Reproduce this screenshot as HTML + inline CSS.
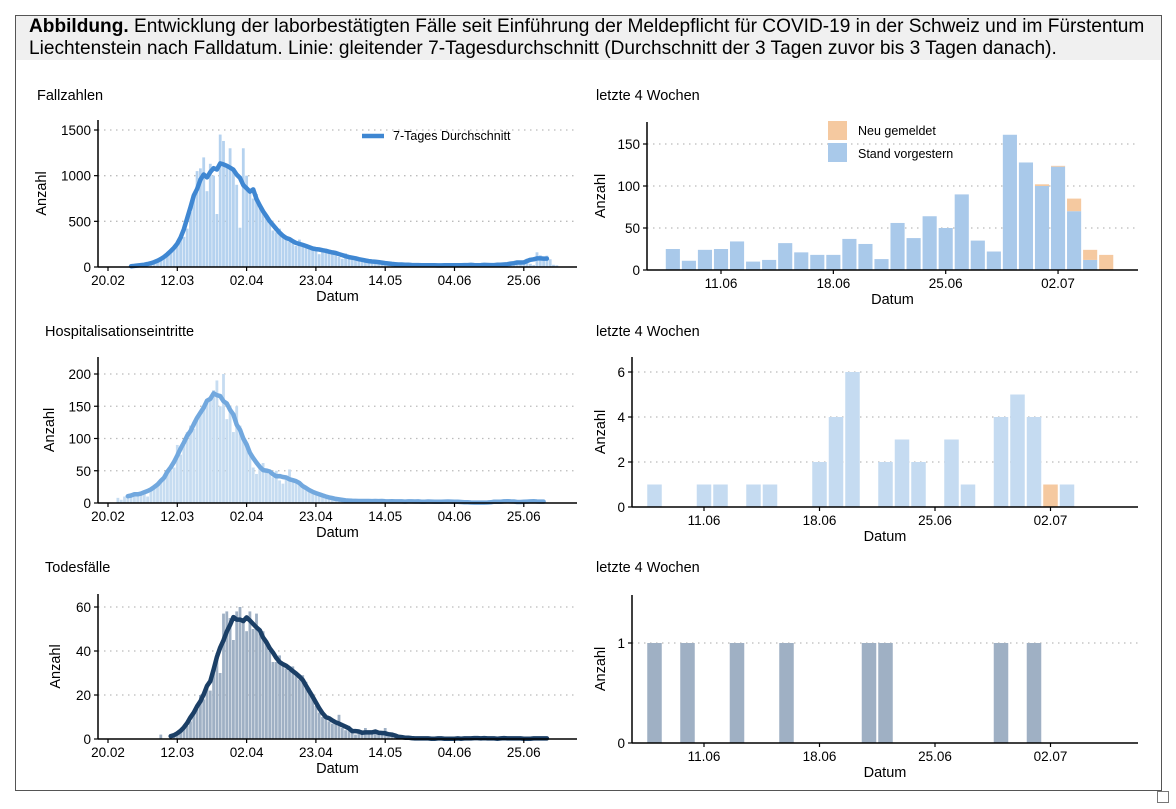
<!DOCTYPE html>
<html><head><meta charset="utf-8"><style>
html,body{margin:0;padding:0;background:#fff;}
body{width:1176px;height:809px;position:relative;overflow:hidden;font-family:"Liberation Sans",Arial,sans-serif;}
#frame{position:absolute;left:15px;top:15px;width:1147px;height:776px;border:1px solid #555;box-sizing:border-box;}
#cap{position:absolute;left:16px;top:16px;width:1145px;height:44px;background:#f0f0f0;font-size:19.1px;line-height:22px;color:#000;padding-left:13px;box-sizing:border-box;white-space:nowrap;overflow:hidden;}
#corner{position:absolute;left:1157px;top:791px;width:10px;height:10px;border:1px solid #777;background:#fff;}
svg{position:absolute;left:0;top:0;}
</style></head><body>
<div id="frame"></div>
<div id="cap"><b>Abbildung.</b> Entwicklung der laborbestätigten Fälle seit Einführung der Meldepflicht für COVID-19 in der Schweiz und im Fürstentum<br>Liechtenstein nach Falldatum. Linie: gleitender 7-Tagesdurchschnitt (Durchschnitt der 3 Tagen zuvor bis 3 Tagen danach).</div>
<div id="corner"></div>
<svg id="chart" width="1176" height="809" xmlns="http://www.w3.org/2000/svg"></svg>
<script>
// ---- data ----
const longTickLabels = ["20.02","12.03","02.04","23.04","14.05","04.06","25.06"];
const longTickDays = [0,21,42,63,84,105,126];
const shortTickLabels = ["11.06","18.06","25.06","02.07"];
const shortTickIdx = [3,10,17,24];

const casesStart = 4;
const casesDaily = [1,2,5,8,10,15,20,25,30,35,45,60,80,100,130,
160,200,250,300,330,420,600,800,1050,1080,
1200,830,1130,1000,580,1450,1380,1100,1300,1050,
900,430,1300,1000,850,750,800,650,600,560,500,400,380,420,350,300,280,
260,230,300,250,220,230,200,180,140,200,
200,190,180,150,110,90,150,120,110,100,
80,60,50,80,70,60,55,45,35,30,
40,35,30,25,20,15,30,25,20,20,18,15,12,25,20,18,20,15,12,25,20,22,20,
25,11,24,25,34,10,12,32,21,18,18,37,31,13,56,38,64,50,90,35,22,161,128,102,124,85,24,18];
const hospStart = 3;
const hospDaily = [8,5,10,12,10,15,14,15,18,10,20,25,28,32,40,45,50,55,90,75,90,110,120,115,130,140,150,160,165,175,190,150,200,130,150,110,150,120,100,90,75,55,45,60,62,50,45,40,50,35,30,40,52,35,35,30,25,20,20,18,15,12,12,10,8,8,6,5,
4,3,5,3,2,4,3,3,2,5,3,2,3,4,2,3,1,2,3,2,4,2,1,3,2,2,3,1,2,3,2,1,2,3,2,3,2,
1,0,0,1,1,0,1,1,0,0,2,4,6,0,2,3,2,0,3,1,0,4,5,4,1,1,0,0];
const deathStart = 16;
const deathDaily = [2,0,0,1,1,2,3,5,6,8,12,15,20,18,25,22,30,39,30,57,58,55,45,58,60,55,49,58,50,57,48,49,44,40,35,35,38,34,32,31,33,30,27,29,26,23,20,15,12,10,10,8,7,8,11,5,4,6,3,2,3,2,5,3,2,4,2,3,5,1,2,1,1,1,
0,1,0,0,1,0,0,0,1,0,0,0,0,1,0,0,0,0,0,
1,0,1,0,0,1,0,0,1,0,0,0,0,1,1,0,0,0,0,0,0,1,0,1,0,0,0,0];

const recentCasesOld = [25,11,24,25,34,10,12,32,21,18,18,37,31,13,56,38,64,50,90,35,22,161,128,100,123,70,12,0];
const recentCasesNew = [0,0,0,0,0,0,0,0,0,0,0,0,0,0,0,0,0,0,0,0,0,0,0,2,1,15,12,18];
const recentHospOld = [1,0,0,1,1,0,1,1,0,0,2,4,6,0,2,3,2,0,3,1,0,4,5,4,0,1,0,0];
const recentHospNew = [0,0,0,0,0,0,0,0,0,0,0,0,0,0,0,0,0,0,0,0,0,0,0,0,1,0,0,0];
const recentDeaths = [1,0,1,0,0,1,0,0,1,0,0,0,0,1,1,0,0,0,0,0,0,1,0,1,0,0,0,0];

// ---- drawing ----
const svg = document.getElementById('chart');
const NS = 'http://www.w3.org/2000/svg';
function mk(tag, attrs, parent){const e=document.createElementNS(NS,tag);for(const k in attrs)e.setAttribute(k,attrs[k]);(parent||svg).appendChild(e);return e;}
function txt(x,y,s,size,anchor,parent,rot){const t=mk('text',{x:x,y:y,'font-size':size,'text-anchor':anchor||'start',fill:'#000','font-family':'Liberation Sans, Arial, sans-serif'},parent);if(rot)t.setAttribute('transform','rotate(-90 '+x+' '+y+')');t.textContent=s;return t;}

function axes(g,p){
  p.yTicks.forEach(v=>{ if(v===0) return; const y=p.ys(v);
    const gl=mk('line',{x1:p.x0,x2:p.x1,y1:y,y2:y,stroke:'#bbb','stroke-width':1.3,'stroke-dasharray':'1.5 4.5'},g);
     });
}
function frameAxes(g,p){
  const ya=mk('line',{x1:p.x0,x2:p.x0,y1:p.top,y2:p.ys(0)+0.5,stroke:'#000','stroke-width':1.5},g);
   
  const xa=mk('line',{x1:p.x0,x2:p.x1,y1:p.ys(0),y2:p.ys(0),stroke:'#000','stroke-width':1.5},g);
   
  p.yTicks.forEach(v=>{const y=p.ys(v);
    mk('line',{x1:p.x0-4,x2:p.x0,y1:y,y2:y,stroke:'#000','stroke-width':1.2},g);
    const t=txt(p.x0-7,y+5,String(v),13.5,'end',g);
     });
  p.xTicks.forEach((d,i)=>{const x=p.xs(d);
    mk('line',{x1:x,x2:x,y1:p.ys(0),y2:p.ys(0)+4,stroke:'#000','stroke-width':1.2},g);
    const t=txt(x,p.ys(0)+18,p.xLabels[i],13.5,'middle',g);
     });
  const xt=txt((p.x0+p.x1)/2+p.xtOff,p.ys(0)+34,'Datum',14.5,'middle',g);
   
  const yt=txt(p.ylx,(p.top+p.ys(0))/2,'Anzahl',14.5,'middle',g,true);
   
  const tt=txt(p.tx,p.ty,p.title,14.5,'start',g);
   
}

function longPanel(name,title,daily,start,yTicks,ymax,y0,yTop,top,barCol,lineCol,ylx,tx,ty){
  const g=mk('g',{});  
  const p={x0:98,x1:577,top:top,xs:d=>108+3.3*d,ys:v=>y0-(y0-yTop)*v/ymax,yTicks:yTicks,xTicks:longTickDays,xLabels:longTickLabels,ylx:ylx,tx:tx,ty:ty,title:title,xtOff:0};
  axes(g,p);
  const bw=3.3*0.85;
  daily.forEach((v,i)=>{ if(v<=0) return; const d=start+i; const y=p.ys(v);
    const r=mk('rect',{x:p.xs(d)-bw/2,y:y,width:bw,height:p.ys(0)-y,fill:barCol},g);
     });
  const pts=[];
  for(let i=3;i<daily.length-3;i++){let s=0;for(let k=-3;k<=3;k++)s+=daily[i+k];pts.push(p.xs(start+i).toFixed(1)+','+p.ys(s/7).toFixed(1));}
  const l=mk('polyline',{points:pts.join(' '),fill:'none',stroke:lineCol,'stroke-width':4.5,'stroke-linejoin':'round','stroke-linecap':'round'},g);
   
  frameAxes(g,p);
  return g;
}

function shortPanel(name,old,neu,yTicks,ymax,y0,yTop,top,x0,t11,step,oldCol,ylx,tx,ty){
  const g=mk('g',{});  
  const p={x0:x0,x1:1138,top:top,xs:i=>t11+(i-3)*step,ys:v=>y0-(y0-yTop)*v/ymax,yTicks:yTicks,xTicks:shortTickIdx,xLabels:shortTickLabels,ylx:ylx,tx:tx,ty:ty,title:'letzte 4 Wochen',xtOff:0};
  axes(g,p);
  const bw=step*0.88;
  old.forEach((v,i)=>{const n=neu?neu[i]:0;
    if(v>0){const y=p.ys(v);const r=mk('rect',{x:p.xs(i)-bw/2,y:y,width:bw,height:p.ys(0)-y,fill:oldCol},g);
       }
    if(n>0){const yb=p.ys(v),yt=p.ys(v+n);const r=mk('rect',{x:p.xs(i)-bw/2,y:yt,width:bw,height:yb-yt,fill:'#f5c9a0'},g);
       }
  });
  frameAxes(g,p);
  return g;
}

longPanel('cases-panel','Fallzahlen',casesDaily,casesStart,[0,500,1000,1500],1500,267,130,120,'#b5d2ef','#3f87d2',46,37,100);
longPanel('hosp-panel','Hospitalisationseintritte',hospDaily,hospStart,[0,50,100,150,200],200,503,374,357,'#c6dcf1','#72a8de',54,45,336);
longPanel('deaths-panel','Todesfälle',deathDaily,deathStart,[0,20,40,60],60,739,607,594,'#9fb0c4','#1b3f66',60,45,572);

shortPanel('recent-cases-panel',recentCasesOld,recentCasesNew,[0,50,100,150],150,270,144,122,647,721,16.05,'#a9c9ea',605,596,100);
shortPanel('recent-hosp-panel',recentHospOld,recentHospNew,[0,2,4,6],6,507,372,357,632,704,16.5,'#c5dbf1',605,596,336);
shortPanel('recent-deaths-panel',recentDeaths,null,[0,1],1,743,643,595,632,704,16.5,'#9fb0c4',605,596,572);

// legends
const lg=mk('g',{});  
mk('line',{x1:362,x2:384,y1:136,y2:136,stroke:'#3f87d2','stroke-width':4.5},lg);
txt(393,140,'7-Tages Durchschnitt',12.5,'start',lg);
const lg2=mk('g',{});  
const e1=mk('rect',{x:828,y:121,width:19,height:19,fill:'#f5c9a0'},lg2);
 
txt(858,135,'Neu gemeldet',12.5,'start',lg2);
const e2=mk('rect',{x:828,y:143,width:19,height:19,fill:'#a9c9ea'},lg2);
 
txt(858,158,'Stand vorgestern',12.5,'start',lg2);
</script>
</body></html>
